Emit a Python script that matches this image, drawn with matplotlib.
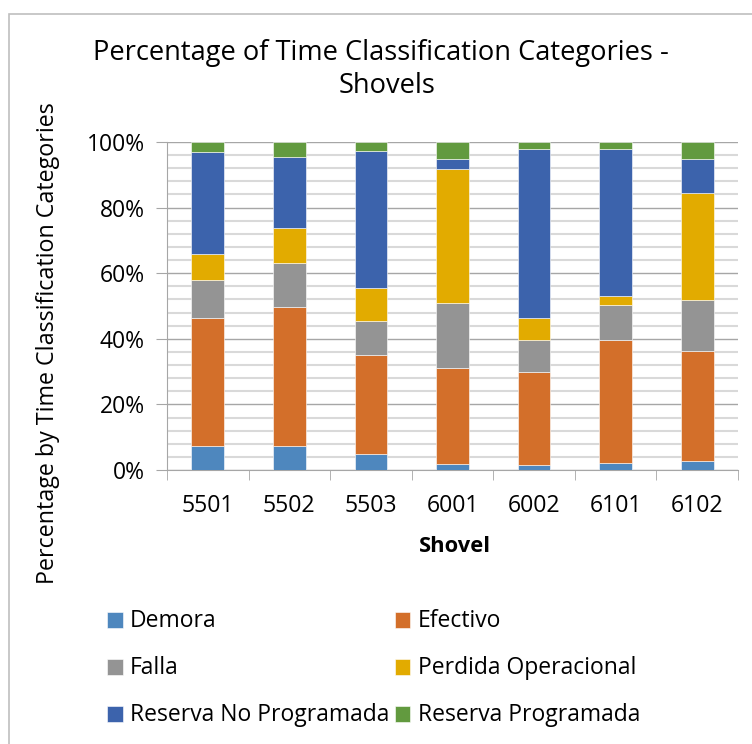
import matplotlib
matplotlib.use("Agg")
import matplotlib.pyplot as plt
from matplotlib.patches import Rectangle
from matplotlib.ticker import MultipleLocator, FuncFormatter
import numpy as np

plt.rcParams['font.family'] = ['Open Sans', 'DejaVu Sans']

shovels = ["5501", "5502", "5503", "6001", "6002", "6101", "6102"]
categories = ["Demora", "Efectivo", "Falla", "Perdida Operacional",
              "Reserva No Programada", "Reserva Programada"]
demora = [7.3, 7.3, 4.8, 1.9, 1.5, 2.1, 2.7]
efectivo = [39.0, 42.4, 30.2, 29.3, 28.4, 37.6, 33.5]
falla = [11.6, 13.3, 10.4, 19.6, 9.6, 10.7, 15.6]
perdida = [8.0, 10.7, 10.2, 41.0, 6.8, 2.8, 32.6]
reserva_np = [31.0, 21.7, 41.7, 2.9, 51.6, 44.7, 10.3]
reserva_p = [3.1, 4.6, 2.7, 5.3, 2.1, 2.1, 5.3]
colors = ["#4e87be", "#d36f2a", "#949494", "#e2ab00", "#3c63ac", "#629a3f"]

series = [demora, efectivo, falla, perdida, reserva_np, reserva_p]

W, H = 752, 744
fig = plt.figure(figsize=(W/100, H/100), dpi=100)
ax = fig.add_axes([167/W, 1-470/H, (738-167)/W, (470-142)/H])

x = np.arange(len(shovels))
totals = np.sum(series, axis=0)
bottom = np.zeros(len(shovels))
handles = []
for vals, col, name in zip(series, colors, categories):
    pct = np.array(vals) / totals * 100
    h = ax.bar(x, pct, 0.4, bottom=bottom, color=col, label=name,
               edgecolor='white', linewidth=0.4, zorder=3)
    handles.append(h)
    bottom += pct

ax.set_xlim(-0.5, len(shovels) - 0.5)
ax.set_ylim(0, 100)
ax.yaxis.set_major_locator(MultipleLocator(20))
ax.yaxis.set_minor_locator(MultipleLocator(4))
ax.yaxis.set_major_formatter(FuncFormatter(lambda v, p: f"{int(v)}%"))
ax.grid(which='major', axis='y', color='#a6a6a6', linewidth=1.0, zorder=0)
ax.grid(which='minor', axis='y', color='#d9d9d9', linewidth=1.5, zorder=0)
ax.set_xticks(x)
ax.set_xticklabels(shovels)
ax.set_xticks(np.arange(-0.5, len(shovels)), minor=True)
ax.tick_params(axis='x', which='major', length=0, pad=17, labelsize=16.5)
ax.tick_params(axis='x', which='minor', length=7, color='#a6a6a6', direction='out')
ax.tick_params(axis='y', which='major', length=8, color='#a6a6a6', labelsize=15, pad=8)
ax.tick_params(axis='y', which='minor', length=0)
for s in ['top', 'right']:
    ax.spines[s].set_visible(False)
for s in ['left', 'bottom']:
    ax.spines[s].set_color('#a6a6a6')

xl = fig.text(455/W, 1-546/H, "Shovel", ha='center', va='center',
              fontsize=16, fontweight='bold')
yl = fig.text(48/W, 1-343.5/H, "Percentage by Time Classification Categories",
              rotation=90, ha='center', va='center', fontsize=15)
t1 = fig.text(380.5/W, 1-60/H, "Percentage of Time Classification Categories -",
              ha='center', va='baseline', fontsize=19)
t2 = fig.text(387.5/W, 1-93/H, "Shovels", ha='center', va='baseline', fontsize=19)

order = [0, 2, 4, 1, 3, 5]
leg = fig.legend([handles[i] for i in order], [categories[i] for i in order],
                 ncol=2, loc='upper left', bbox_to_anchor=(99/W, 1-601/H),
                 frameon=False, fontsize=15, handlelength=0.75, handleheight=0.75,
                 handletextpad=0.35, labelspacing=1.1, columnspacing=0.25,
                 borderaxespad=0)

# fit text sizes to the reference's pixel extents
fig.canvas.draw()
r = fig.canvas.get_renderer()
def fit(t, target, horiz=True):
    bb = t.get_window_extent(r)
    cur = bb.width if horiz else bb.height
    t.set_fontsize(t.get_fontsize() * target / cur)
fit(t1, 575)
t2.set_fontsize(t1.get_fontsize())
fit(yl, 483, horiz=False)
fit(xl, 72)
lt = leg.get_texts()
bb = lt[2].get_window_extent(r)
lsize = 15 * 259 / bb.width
for t in lt:
    t.set_fontsize(lsize)
xt = ax.get_xticklabels()
xs = 16.5 * 53 / xt[0].get_window_extent(r).width
ax.tick_params(axis='x', which='major', labelsize=xs)
yt = ax.get_yticklabels()
ys = 15 * 58 / yt[-1].get_window_extent(r).width
ax.tick_params(axis='y', which='major', labelsize=ys)

fig.patches.append(Rectangle((9/W, -0.1), 1.2, 1-14/H + 0.1,
                             transform=fig.transFigure, fill=False,
                             edgecolor='#bfbfbf', linewidth=1.2))

fig.savefig("out.png", dpi=100, facecolor='white')
